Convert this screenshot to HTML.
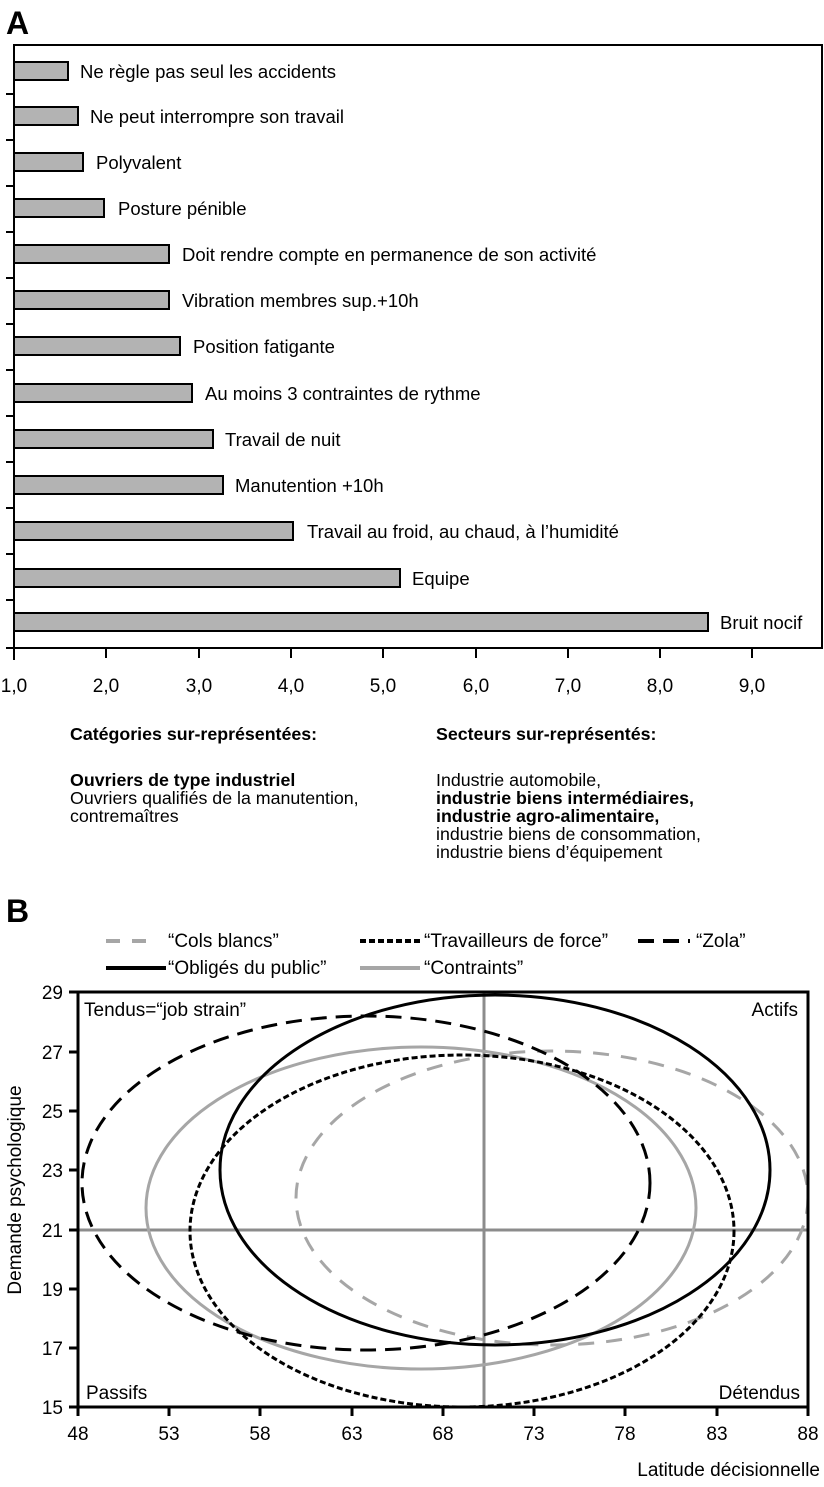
<!DOCTYPE html>
<html><head><meta charset="utf-8"><style>
body{margin:0;background:#fff;font-family:"Liberation Sans",sans-serif;}
svg{display:block}
</style></head><body>
<svg width="824" height="1487" viewBox="0 0 824 1487" xmlns="http://www.w3.org/2000/svg" font-family="Liberation Sans, sans-serif">
<text x="6" y="34" font-size="32" font-weight="bold">A</text>
<rect x="14" y="45" width="808" height="603" fill="none" stroke="#000" stroke-width="2"/>
<g stroke="#000" stroke-width="2">
<line x1="6" y1="94" x2="14" y2="94"/><line x1="6" y1="140" x2="14" y2="140"/><line x1="6" y1="186" x2="14" y2="186"/><line x1="6" y1="232" x2="14" y2="232"/><line x1="6" y1="278" x2="14" y2="278"/><line x1="6" y1="324" x2="14" y2="324"/><line x1="6" y1="370" x2="14" y2="370"/><line x1="6" y1="416" x2="14" y2="416"/><line x1="6" y1="462" x2="14" y2="462"/><line x1="6" y1="508" x2="14" y2="508"/><line x1="6" y1="554" x2="14" y2="554"/><line x1="6" y1="600" x2="14" y2="600"/><line x1="6" y1="648" x2="14" y2="648"/>
<line x1="14" y1="648" x2="14" y2="660"/><line x1="106" y1="648" x2="106" y2="658"/><line x1="199" y1="648" x2="199" y2="658"/><line x1="291" y1="648" x2="291" y2="658"/><line x1="383" y1="648" x2="383" y2="658"/><line x1="476" y1="648" x2="476" y2="658"/><line x1="568" y1="648" x2="568" y2="658"/><line x1="660" y1="648" x2="660" y2="658"/><line x1="752" y1="648" x2="752" y2="658"/>
</g>
<g font-size="19" text-anchor="middle">
<text x="14" y="692">1,0</text><text x="106" y="692">2,0</text><text x="199" y="692">3,0</text><text x="291" y="692">4,0</text><text x="383" y="692">5,0</text><text x="476" y="692">6,0</text><text x="568" y="692">7,0</text><text x="660" y="692">8,0</text><text x="752" y="692">9,0</text>
</g>
<g fill="#b3b3b3" stroke="#000" stroke-width="2">
<rect x="14" y="62" width="54" height="18"/>
<rect x="14" y="107" width="64" height="18"/>
<rect x="14" y="153" width="69" height="18"/>
<rect x="14" y="199" width="90" height="18"/>
<rect x="14" y="245" width="155" height="18"/>
<rect x="14" y="291" width="155" height="18"/>
<rect x="14" y="337" width="166" height="18"/>
<rect x="14" y="384" width="178" height="18"/>
<rect x="14" y="430" width="199" height="18"/>
<rect x="14" y="476" width="209" height="18"/>
<rect x="14" y="522" width="279" height="18"/>
<rect x="14" y="569" width="386" height="18"/>
<rect x="14" y="613" width="694" height="18"/>
</g>
<g font-size="18.5">
<text x="80" y="78">Ne règle pas seul les accidents</text>
<text x="90" y="123">Ne peut interrompre son travail</text>
<text x="96" y="169">Polyvalent</text>
<text x="118" y="215">Posture pénible</text>
<text x="182" y="261">Doit rendre compte en permanence de son activité</text>
<text x="182" y="307">Vibration membres sup.+10h</text>
<text x="193" y="353">Position fatigante</text>
<text x="205" y="400">Au moins 3 contraintes de rythme</text>
<text x="225" y="446">Travail de nuit</text>
<text x="235" y="492">Manutention +10h</text>
<text x="307" y="538">Travail au froid, au chaud, à l’humidité</text>
<text x="412" y="585">Equipe</text>
<text x="720" y="629">Bruit nocif</text>
</g>
<g font-size="17.8">
<text x="70" y="740" font-weight="bold">Catégories sur-représentées:</text>
<text x="70" y="786" font-weight="bold">Ouvriers de type industriel</text>
<text x="70" y="804">Ouvriers qualifiés de la manutention,</text>
<text x="70" y="822">contremaîtres</text>
<text x="436" y="740" font-weight="bold">Secteurs sur-représentés:</text>
<text x="436" y="786">Industrie automobile,</text>
<text x="436" y="804" font-weight="bold">industrie biens intermédiaires,</text>
<text x="436" y="822" font-weight="bold">industrie agro-alimentaire,</text>
<text x="436" y="840">industrie biens de consommation,</text>
<text x="436" y="858">industrie biens d’équipement</text>
</g>
<text x="6" y="922" font-size="32" font-weight="bold">B</text>
<g font-size="19">
<line x1="106" y1="941" x2="156" y2="941" stroke="#a6a6a6" stroke-width="4" stroke-dasharray="14,12"/>
<text x="168" y="947">“Cols blancs”</text>
<line x1="360" y1="941" x2="420" y2="941" stroke="#000" stroke-width="4" stroke-dasharray="6,3"/>
<text x="424" y="947">“Travailleurs de force”</text>
<line x1="638" y1="941" x2="690" y2="941" stroke="#000" stroke-width="4" stroke-dasharray="16,9"/>
<text x="696" y="947">“Zola”</text>
<line x1="106" y1="968" x2="166" y2="968" stroke="#000" stroke-width="4"/>
<text x="168" y="974">“Obligés du public”</text>
<line x1="360" y1="968" x2="420" y2="968" stroke="#a6a6a6" stroke-width="4"/>
<text x="424" y="974">“Contraints”</text>
</g>
<defs><clipPath id="c"><rect x="78" y="992" width="730" height="415"/></clipPath></defs>
<g clip-path="url(#c)" fill="none">
<line x1="78" y1="1230" x2="808" y2="1230" stroke="#8c8c8c" stroke-width="3"/>
<line x1="484" y1="992" x2="484" y2="1407" stroke="#8c8c8c" stroke-width="3"/>
<ellipse cx="552" cy="1198" rx="256" ry="147" stroke="#a6a6a6" stroke-width="3" stroke-dasharray="16,12"/>
<ellipse cx="421" cy="1208" rx="275" ry="161" stroke="#a6a6a6" stroke-width="3"/>
<ellipse cx="462" cy="1231" rx="272" ry="176" stroke="#000" stroke-width="3" stroke-dasharray="6,3"/>
<ellipse cx="366" cy="1183" rx="284" ry="167" stroke="#000" stroke-width="3" stroke-dasharray="16,9"/>
<ellipse cx="495" cy="1170" rx="275" ry="175" stroke="#000" stroke-width="3"/>
</g>
<rect x="78" y="992" width="730" height="415" fill="none" stroke="#000" stroke-width="3"/>
<g stroke="#000" stroke-width="3">
<line x1="69" y1="992" x2="78" y2="992"/><line x1="69" y1="1052" x2="78" y2="1052"/><line x1="69" y1="1111" x2="78" y2="1111"/><line x1="69" y1="1170" x2="78" y2="1170"/><line x1="69" y1="1230" x2="78" y2="1230"/><line x1="69" y1="1289" x2="78" y2="1289"/><line x1="69" y1="1348" x2="78" y2="1348"/><line x1="69" y1="1407" x2="78" y2="1407"/>
<line x1="78" y1="1407" x2="78" y2="1416"/><line x1="169" y1="1407" x2="169" y2="1416"/><line x1="260" y1="1407" x2="260" y2="1416"/><line x1="352" y1="1407" x2="352" y2="1416"/><line x1="443" y1="1407" x2="443" y2="1416"/><line x1="534" y1="1407" x2="534" y2="1416"/><line x1="625" y1="1407" x2="625" y2="1416"/><line x1="717" y1="1407" x2="717" y2="1416"/><line x1="808" y1="1407" x2="808" y2="1416"/>
</g>
<g font-size="19" text-anchor="end">
<text x="63" y="999">29</text><text x="63" y="1059">27</text><text x="63" y="1118">25</text><text x="63" y="1177">23</text><text x="63" y="1237">21</text><text x="63" y="1296">19</text><text x="63" y="1355">17</text><text x="63" y="1414">15</text>
</g>
<g font-size="19" text-anchor="middle">
<text x="78" y="1440">48</text><text x="169" y="1440">53</text><text x="260" y="1440">58</text><text x="352" y="1440">63</text><text x="443" y="1440">68</text><text x="534" y="1440">73</text><text x="625" y="1440">78</text><text x="717" y="1440">83</text><text x="808" y="1440">88</text>
</g>
<text x="820" y="1476" font-size="19" text-anchor="end">Latitude décisionnelle</text>
<text transform="translate(21,1190) rotate(-90)" font-size="19" text-anchor="middle">Demande psychologique</text>
<g font-size="19">
<text x="84" y="1016">Tendus=“job strain”</text>
<text x="798" y="1016" text-anchor="end">Actifs</text>
<text x="86" y="1399">Passifs</text>
<text x="800" y="1399" text-anchor="end">Détendus</text>
</g>
</svg>
</body></html>
